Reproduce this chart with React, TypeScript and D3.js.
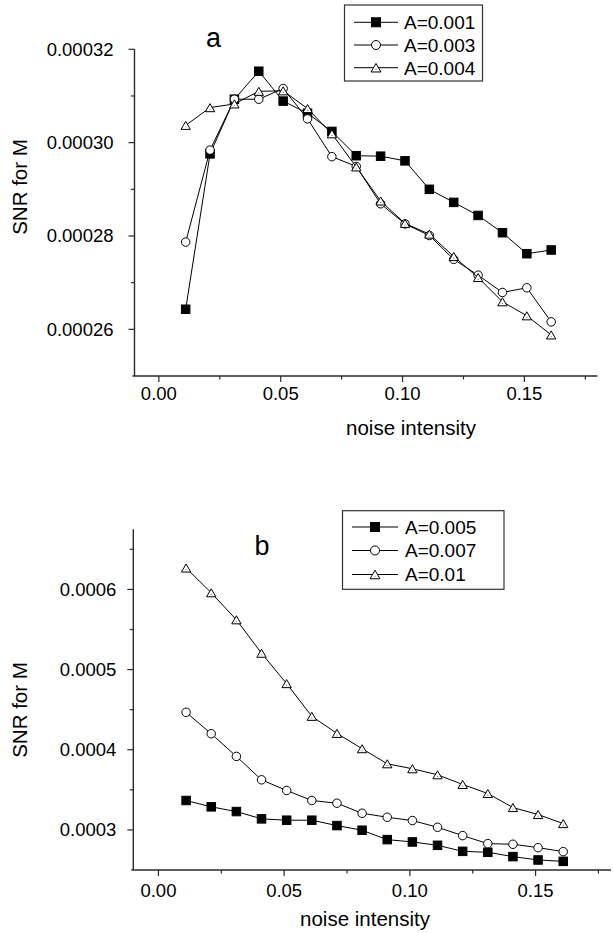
import React from "react";
import * as d3 from "d3";

const noise = [0.011, 0.021, 0.031, 0.041, 0.051, 0.061, 0.071, 0.081, 0.091, 0.101, 0.111, 0.121, 0.131, 0.141, 0.151, 0.161];

// panel a
const a001 = [0.0002643, 0.0002976, 0.0003093, 0.0003153, 0.0003089, 0.0003063, 0.0003024, 0.0002972, 0.0002971, 0.0002961, 0.00029, 0.0002872, 0.0002844, 0.0002807, 0.0002762, 0.000277];
const a003 = [0.0002787, 0.0002984, 0.0003093, 0.0003093, 0.0003116, 0.0003051, 0.000297, 0.0002949, 0.0002869, 0.0002826, 0.0002801, 0.000275, 0.0002716, 0.0002679, 0.0002689, 0.0002616];
const a004 = [0.0003037, 0.0003075, 0.0003083, 0.000311, 0.0003111, 0.0003073, 0.0003019, 0.0002948, 0.0002875, 0.0002827, 0.0002804, 0.0002756, 0.0002711, 0.0002659, 0.0002629, 0.0002588];

// panel b
const a005 = [0.0003367, 0.0003288, 0.0003229, 0.0003138, 0.0003121, 0.0003121, 0.0003054, 0.0002996, 0.0002879, 0.000285, 0.0002808, 0.0002733, 0.0002721, 0.0002667, 0.0002625, 0.0002608];
const a007 = [0.0004467, 0.00042, 0.0003917, 0.0003625, 0.0003492, 0.0003367, 0.0003333, 0.0003208, 0.0003158, 0.0003117, 0.0003033, 0.0002929, 0.0002829, 0.0002821, 0.0002779, 0.0002729];
const a01 = [0.0006267, 0.0005958, 0.0005621, 0.0005204, 0.0004825, 0.0004417, 0.0004204, 0.0004013, 0.0003825, 0.0003763, 0.0003688, 0.0003567, 0.0003454, 0.0003279, 0.0003192, 0.0003079];

const xTicks = [0, 0.05, 0.1, 0.15];
const xMinor = [0.025, 0.075, 0.125, 0.175];
const xTickLabels = ["0.00", "0.05", "0.10", "0.15"];

const yTicksA = [0.00026, 0.00028, 0.0003, 0.00032];
const yMinorA = [0.00027, 0.00029, 0.00031];
const yTickLabelsA = ["0.00026", "0.00028", "0.00030", "0.00032"];

const yTicksB = [0.0003, 0.0004, 0.0005, 0.0006];
const yMinorB = [0.00035, 0.00045, 0.00055, 0.00065];
const yTickLabelsB = ["0.0003", "0.0004", "0.0005", "0.0006"];

const legendA = ["A=0.001", "A=0.003", "A=0.004"];
const legendB = ["A=0.005", "A=0.007", "A=0.01"];
const shapes = ["square", "circle", "triangle"];

const FONT = "'Liberation Sans', Arial, Helvetica, sans-serif";
const AX = "#2a2a2a";

function Marker({ shape, x, y, s }) {
  if (shape === "square") {
    return <rect x={x - s / 2} y={y - s / 2} width={s} height={s} fill="#000" stroke="#000" strokeWidth={1} />;
  }
  if (shape === "circle") {
    return <circle cx={x} cy={y} r={s / 2} fill="#fff" stroke="#000" strokeWidth={1} />;
  }
  const w = s * 1.1;
  const h = s * 0.95;
  return (
    <g>
      <path d={`M${x},${y - h / 2}L${x + w / 2},${y + h / 2}L${x - w / 2},${y + h / 2}Z`} fill="#fff" stroke="#000" strokeWidth={1} />
      <circle cx={x} cy={y + h * 0.2} r={0.6} fill="#777" />
    </g>
  );
}

function Panel({ xr, yr, yd, yTicks, yMinor, yLabels, series, labelGap, letter, letterPos, titleX, titleY, xLabelY, snrY, legend, legendBox, legendRows, legendLine, legendText }) {
  const x = d3.scaleLinear().domain([-0.01, 0.18]).range(xr);
  const y = d3.scaleLinear().domain(yd).range(yr);
  const line = d3.line<number>().x((_, i) => x(noise[i])).y((d) => y(d));
  const y0 = y(yd[0]);
  const x0 = x(-0.01);
  return (
    <g>
      {/* axes */}
      <line x1={x0 - 2} x2={x(0.18)} y1={y0} y2={y0} stroke={AX} strokeWidth={1.4} />
      <line x1={x0} x2={x0} y1={y0} y2={y(yd[1])} stroke={AX} strokeWidth={1.4} />
      {xTicks.map((t, i) => (
        <g key={"xt" + i}>
          <line x1={x(t)} x2={x(t)} y1={y0} y2={y0 + 6} stroke={AX} strokeWidth={1.2} />
          <text x={x(t)} y={xLabelY} textAnchor="middle" fontSize={18.5} fontFamily={FONT}>{xTickLabels[i]}</text>
        </g>
      ))}
      {xMinor.map((t, i) => (
        <line key={"xm" + i} x1={x(t)} x2={x(t)} y1={y0} y2={y0 + 3.5} stroke={AX} strokeWidth={1.2} />
      ))}
      {yTicks.map((t, i) => (
        <g key={"yt" + i}>
          <line x1={x0 - 6} x2={x0} y1={y(t)} y2={y(t)} stroke={AX} strokeWidth={1.2} />
          <text x={x0 - labelGap} y={y(t)} dy="0.35em" textAnchor="end" fontSize={18.5} fontFamily={FONT}>{yLabels[i]}</text>
        </g>
      ))}
      {yMinor.map((t, i) => (
        <line key={"ym" + i} x1={x0 - 3.5} x2={x0} y1={y(t)} y2={y(t)} stroke={AX} strokeWidth={1.2} />
      ))}
      <text x={titleX} y={titleY} textAnchor="middle" fontSize={20.5} fontFamily={FONT}>noise intensity</text>
      <text transform={`translate(27,${snrY}) rotate(-90)`} textAnchor="middle" fontSize={20.5} fontFamily={FONT}>SNR for M</text>
      <text x={letterPos[0]} y={letterPos[1]} textAnchor="middle" fontSize={27} fontFamily={FONT}>{letter}</text>
      {/* series */}
      {series.map((s, si) => (
        <g key={"s" + si}>
          <path d={line(s) || ""} fill="none" stroke="#000" strokeWidth={1} />
          {s.map((v, i) => (
            <Marker key={i} shape={shapes[si]} x={x(noise[i])} y={y(v)} s={8.5} />
          ))}
        </g>
      ))}
      {/* legend */}
      <rect x={legendBox[0]} y={legendBox[1]} width={legendBox[2]} height={legendBox[3]} fill="#fff" stroke="#333" strokeWidth={1.2} />
      {legend.map((l, i) => (
        <g key={"l" + i}>
          <line x1={legendLine[0]} x2={legendLine[1]} y1={legendRows[i]} y2={legendRows[i]} stroke="#000" strokeWidth={1} />
          <Marker shape={shapes[i]} x={(legendLine[0] + legendLine[1]) / 2} y={legendRows[i]} s={9} />
          <text x={legendText} y={legendRows[i]} dy="0.36em" fontSize={19} fontFamily={FONT}>{l}</text>
        </g>
      ))}
    </g>
  );
}

export default function App() {
  return (
    <svg width={613} height={933} style={{ position: "absolute", left: 0, top: 0, background: "#fff" }}>
      <rect x={0} y={0} width={613} height={933} fill="#fff" />
      <Panel
        xr={[134.5, 597.5]}
        yr={[376, 49.3]}
        yd={[0.00025, 0.00032]}
        yTicks={yTicksA}
        yMinor={yMinorA}
        yLabels={yTickLabelsA}
        series={[a001, a003, a004]}
        labelGap={21}
        letter="a"
        letterPos={[213.5, 46.5]}
        titleX={411}
        titleY={435}
        xLabelY={400}
        snrY={187}
        legend={legendA}
        legendBox={[344.5, 5, 138, 76]}
        legendRows={[22.3, 45, 67.7]}
        legendLine={[354, 398]}
        legendText={404}
      />
      <Panel
        xr={[133.3, 611]}
        yr={[870, 529.3]}
        yd={[0.00025, 0.000675]}
        yTicks={yTicksB}
        yMinor={yMinorB}
        yLabels={yTickLabelsB}
        series={[a005, a007, a01]}
        labelGap={17}
        letter="b"
        letterPos={[262, 555]}
        titleX={365}
        titleY={926}
        xLabelY={897}
        snrY={710}
        legend={legendB}
        legendBox={[342.5, 510.7, 161.5, 78.6]}
        legendRows={[527, 550.5, 574.5]}
        legendLine={[352, 398]}
        legendText={405}
      />
    </svg>
  );
}
